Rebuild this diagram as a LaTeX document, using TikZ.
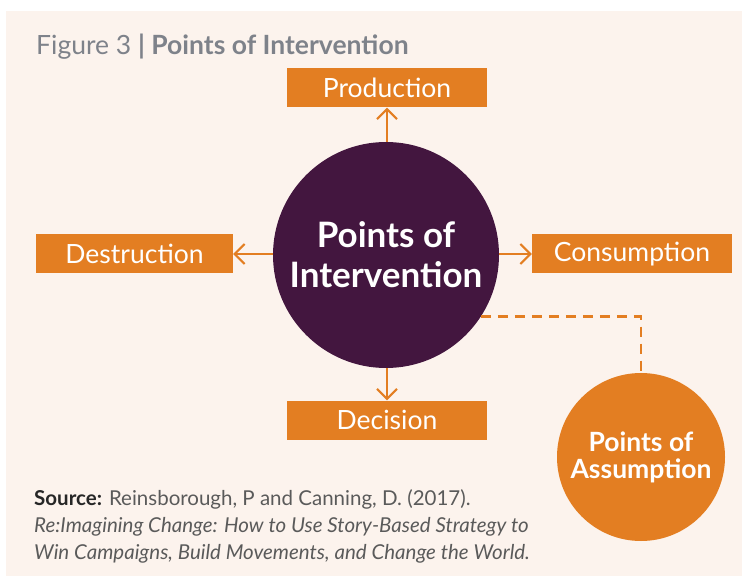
\documentclass[tikz,border=0pt]{standalone}
\usepackage{fontspec}
\setmainfont{Lato}
\usetikzlibrary{arrows.meta}

\definecolor{panel}{HTML}{FCF3ED}
\definecolor{orng}{HTML}{E37E22}
\definecolor{plum}{HTML}{43163F}
\definecolor{titlegray}{HTML}{7E828A}
\definecolor{srcgray}{HTML}{5A5A5A}

\tikzset{
  box/.style={fill=orng, text=white, minimum width=200pt, minimum height=39pt,
    inner sep=0pt, font=\fontsize{26.5}{30}\selectfont},
  hub/.style={circle, fill=plum, text=white, minimum size=226pt, inner sep=0pt,
    align=center, font=\fontsize{35}{39}\selectfont\bfseries},
  side/.style={circle, fill=orng, text=white, minimum size=168pt, inner sep=0pt,
    align=center, font=\fontsize{26.5}{27}\selectfont\bfseries},
  link/.style={draw=orng, line width=2pt, -{Straight Barb[length=10pt,width=20pt,line width=2pt]}},
  dashlink/.style={draw=orng, line width=2.5pt, dash pattern=on 10pt off 7pt},
  titletext/.style={text=titlegray, inner sep=0pt, anchor=base west,
    font=\fontsize{26.5}{30}\selectfont},
  srctext/.style={text=srcgray, inner sep=0pt, anchor=base west,
    font=\fontsize{20.5}{26}\selectfont},
}

\begin{document}
\begin{tikzpicture}[x=1pt,y=-1pt]
  % page and panel
  \path[fill=white] (0,0) rectangle (742,577);
  \useasboundingbox (0,0) rectangle (742,577);
  \path[fill=panel] (6,11) rectangle (742,576);

  % title
  \node[titletext] (title) at (36,55) {Figure 3 {\bfseries | Points of Intervention}};

  % central hub and the four outcomes
  \node[hub] (hub) at (386,255) {Points of\\[1pt]Intervention};
  \node[box] (prod) at (387,88) {Production};
  \node[box, minimum width=197pt] (dest) at (134.5,254) {Destruction};
  \node[box] (cons) at (632,254) {Consumption};
  \node[box] (dec) at (387,420) {Decision};

  \draw[link] (hub.north -| prod) -- (prod.south);
  \draw[link] (hub.south -| dec) -- (dec.north);
  \draw[link] (hub.west |- dest) -- (dest.east);
  \draw[link] (hub.east |- cons) -- (cons.west);

  % assumption bubble with dashed connector
  \node[side] (assm) at (641,457) {Points of\\Assumption};
  \coordinate (bend) at (hub.-33 -| assm);
  \draw[dashlink] (hub.-33) -- (bend) -- (assm.north);

  % source note
  \node[srctext] (src1) at (34,505) {{\bfseries\color{black!85}Source:} Reinsborough, P and Canning, D. (2017).};
  \node[srctext] (src2) at (34,532) {\itshape Re:Imagining Change: How to Use Story-Based Strategy to};
  \node[srctext] (src3) at (34,559) {\itshape Win Campaigns, Build Movements, and Change the World.};
\end{tikzpicture}
\end{document}
